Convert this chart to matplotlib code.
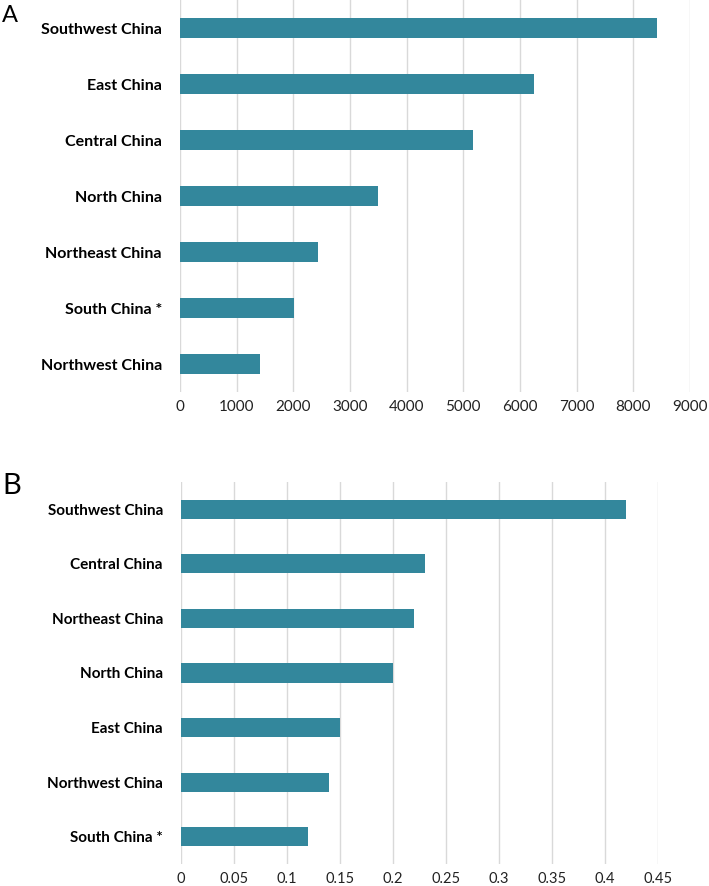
import matplotlib
matplotlib.use("Agg")
import matplotlib.pyplot as plt

# Panel A data (top to bottom as drawn)
regions_a = ["Southwest China", "East China", "Central China", "North China",
             "Northeast China", "South China *", "Northwest China"]
values_a = [8420, 6240, 5170, 3500, 2430, 2020, 1420]
ticks_a = [0, 1000, 2000, 3000, 4000, 5000, 6000, 7000, 8000, 9000]

# Panel B data
regions_b = ["Southwest China", "Central China", "Northeast China", "North China",
             "East China", "Northwest China", "South China *"]
values_b = [0.42, 0.23, 0.22, 0.20, 0.15, 0.14, 0.12]
ticks_b = [0, 0.05, 0.1, 0.15, 0.2, 0.25, 0.3, 0.35, 0.4, 0.45]
tick_labels_b = ["0", "0.05", "0.1", "0.15", "0.2", "0.25", "0.3", "0.35", "0.4", "0.45"]

bar_color = "#33879c"
grid_color = "#d9d9d9"
font = ["Lato", "DejaVu Sans"]

W, H = 709, 886
fig = plt.figure(figsize=(W / 100, H / 100), dpi=100)


def draw_panel(ax, labels, values, ticks, tick_labels, xmax, label_size, tick_size):
    n = len(labels)
    pos = list(range(n))
    ax.barh(pos, values, height=0.35, color=bar_color, zorder=3)
    ax.set_ylim(n - 0.5, -0.5)
    ax.set_xlim(0, xmax)
    ax.set_yticks(pos)
    ax.set_yticklabels(labels, fontsize=label_size, fontweight="bold", family=font)
    ax.set_xticks(ticks)
    ax.set_xticklabels(tick_labels, fontsize=tick_size, family=font, color="#222222")
    ax.tick_params(axis="both", length=0)
    ax.tick_params(axis="y", pad=13)
    ax.tick_params(axis="x", pad=6)
    ax.xaxis.grid(True, color=grid_color, linewidth=1.0, zorder=0)
    for s in ax.spines.values():
        s.set_visible(False)


ax_a = fig.add_axes([180 / W, 1 - 392 / H, 510 / W, 392 / H])
draw_panel(ax_a, regions_a, values_a, ticks_a, [str(t) for t in ticks_a], 9000, 11.5, 11)

ax_b = fig.add_axes([181 / W, 1 - 864 / H, 477 / W, 382 / H])
draw_panel(ax_b, regions_b, values_b, ticks_b, tick_labels_b, 0.45, 11, 10.5)

fig.text(2 / W, 1 - 15 / H, "A", fontsize=17, family=font, va="center", ha="left")
fig.text(2 / W, 1 - 486 / H, "B", fontsize=21, family=font, va="center", ha="left")

fig.savefig("out.png", dpi=100)
